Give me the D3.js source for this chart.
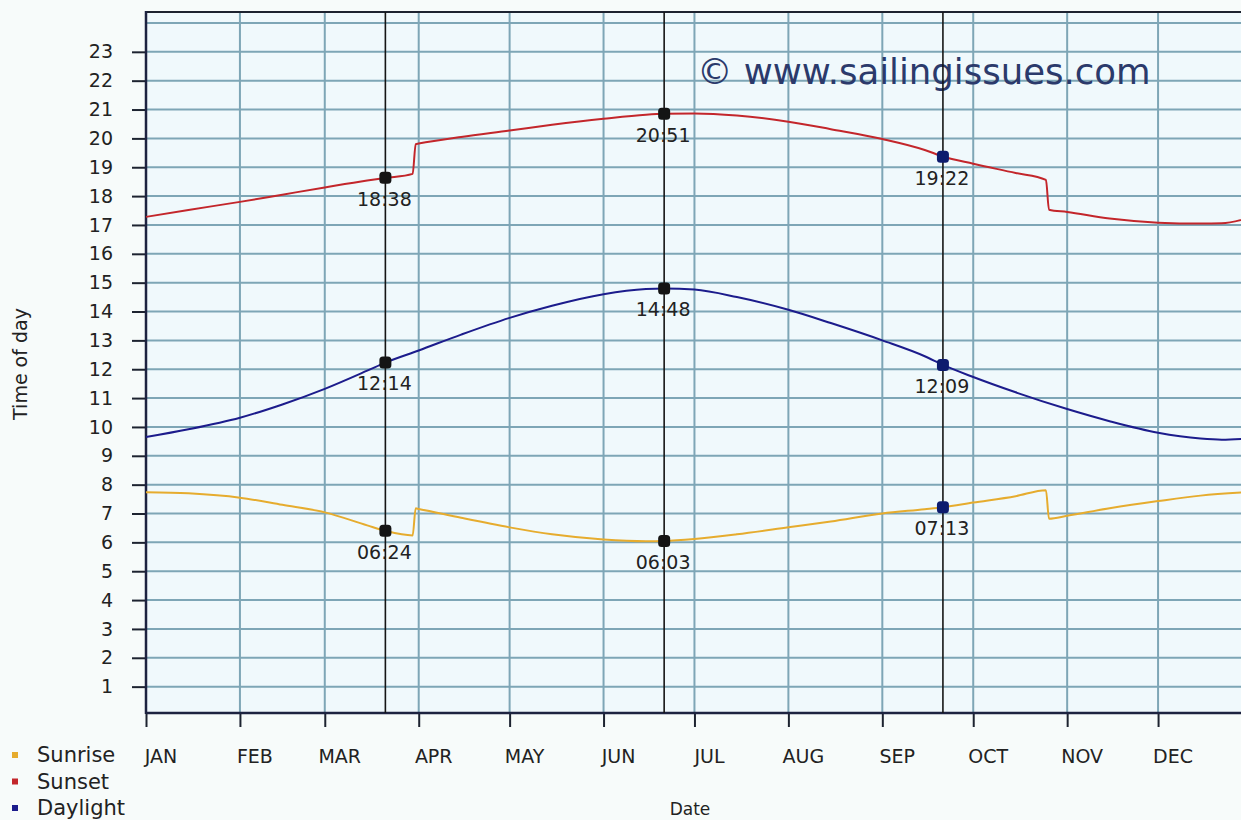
<!DOCTYPE html>
<html>
<head>
<meta charset="utf-8">
<script src="https://cdn.jsdelivr.net/npm/d3@7"></script>
<style>
  html, body { margin: 0; padding: 0; background: #f7fbfa; }
  svg { display: block; font-family: "DejaVu Sans", Verdana, sans-serif; }
</style>
</head>
<body>
<svg id="chart" width="1241" height="820"></svg>
<script>
// ---- data ----
const year = 2009;
const monthLabels = ["JAN","FEB","MAR","APR","MAY","JUN","JUL","AUG","SEP","OCT","NOV","DEC"];
const yTickValues = [1,2,3,4,5,6,7,8,9,10,11,12,13,14,15,16,17,18,19,20,21,22,23];

const sunsetDates = ["01-01","01-15","02-01","02-15","03-01","03-15","03-21","03-30","03-31","04-01","04-15","05-01","05-15","06-01","06-15","06-21","07-01","07-15","08-01","08-15","09-01","09-15","09-21","10-01","10-15","10-25","10-26","11-01","11-15","12-01","12-15","12-22","12-31"];
const sunsetValues = [17.28,17.52,17.80,18.05,18.30,18.54,18.63,18.77,19.80,19.82,20.05,20.27,20.47,20.68,20.82,20.85,20.86,20.79,20.58,20.32,19.98,19.60,19.37,19.12,18.80,18.56,17.53,17.45,17.22,17.08,17.05,17.06,17.25];

const sunriseDates = ["01-01","01-15","02-01","02-15","03-01","03-15","03-21","03-30","03-31","04-01","04-15","05-01","05-15","06-01","06-15","06-21","07-01","07-15","08-01","08-15","09-01","09-15","09-21","10-01","10-15","10-25","10-26","11-01","11-15","12-01","12-15","12-31"];
const sunriseValues = [7.74,7.70,7.55,7.30,7.04,6.59,6.40,6.24,7.18,7.16,6.85,6.52,6.28,6.10,6.04,6.05,6.12,6.28,6.52,6.72,7.00,7.15,7.22,7.38,7.60,7.81,6.82,6.92,7.18,7.43,7.62,7.74];

const daylightDates = ["01-01","01-15","02-01","02-15","03-01","03-15","03-21","04-01","04-15","05-01","05-15","06-01","06-15","06-21","07-01","07-15","08-01","08-15","09-01","09-15","09-21","10-01","10-15","11-01","11-15","12-01","12-15","12-22","12-31"];
const daylightValues = [9.65,9.92,10.32,10.78,11.32,11.95,12.23,12.65,13.20,13.78,14.20,14.60,14.78,14.80,14.76,14.50,14.06,13.60,13.00,12.45,12.15,11.73,11.20,10.62,10.20,9.80,9.60,9.56,9.60];

const markerDates = ["03-21","06-21","09-21"];
const markerSunset = ["18:38","20:51","19:22"];
const markerDaylight = ["12:14","14:48","12:09"];
const markerSunrise = ["06:24","06:03","07:13"];

const legendLabels = ["Sunrise","Sunset","Daylight"];
const seriesColors = ["#e6ac2e","#c3262b","#1c1c8c"];

// ---- helpers ----
const parseDay = s => new Date(year, +s.slice(0,2) - 1, +s.slice(3,5));
const parseHM = s => +s.slice(0,2) + (+s.slice(3,5)) / 60;

const svg = d3.select("#chart");
const pLeft = 146, pRight = 1252, pTop = 12, pBottom = 713;

const x = d3.scaleTime()
  .domain([new Date(year,0,1), new Date(year+1,0,1)])
  .range([pLeft, pRight]);
const y = d3.scaleLinear()
  .domain([0, 24.38])
  .range([715.5, pTop]);

// plot background
svg.append("rect")
  .attr("x", pLeft).attr("y", pTop)
  .attr("width", pRight - pLeft).attr("height", pBottom - pTop)
  .attr("fill", "#f0f9fc");

const gridColor = "#7ea6b6";
// horizontal grid
svg.append("g").selectAll("line")
  .data(d3.range(1, 25))
  .join("line")
  .attr("x1", pLeft).attr("x2", pRight)
  .attr("y1", d => y(d)).attr("y2", d => y(d))
  .attr("stroke", gridColor).attr("stroke-width", 2);

// vertical grid at month starts
const months = d3.timeMonth.range(new Date(year,0,1), new Date(year+1,0,1));
svg.append("g").selectAll("line")
  .data(months.slice(1))
  .join("line")
  .attr("x1", d => x(d)).attr("x2", d => x(d))
  .attr("y1", pTop).attr("y2", pBottom)
  .attr("stroke", gridColor).attr("stroke-width", 2);

// top border
svg.append("line")
  .attr("x1", pLeft).attr("x2", 1241).attr("y1", pTop).attr("y2", pTop)
  .attr("stroke", "#1d2330").attr("stroke-width", 2);

// Y axis
const yAxis = d3.axisLeft(y).tickValues(yTickValues).tickSize(14).tickPadding(19).tickFormat(d3.format("d"));
const gy = svg.append("g").attr("transform", `translate(${pLeft},0)`).call(yAxis);
gy.select(".domain").remove();
gy.selectAll(".tick line").attr("stroke", "#1d2330").attr("stroke-width", 2);
gy.selectAll(".tick text").attr("fill", "#222").style("font-size", "19px")
  .style("font-family", "'DejaVu Sans', sans-serif");
svg.append("line").attr("x1", pLeft).attr("x2", pLeft).attr("y1", pTop - 1).attr("y2", pBottom + 1)
  .attr("stroke", "#1d2340").attr("stroke-width", 2.5);

// X axis
const xAxis = d3.axisBottom(x).tickValues(months).tickSize(14).tickFormat("");
const gx = svg.append("g").attr("transform", `translate(0,${pBottom})`).call(xAxis);
gx.select(".domain").remove();
gx.selectAll(".tick line").attr("stroke", "#1d2330").attr("stroke-width", 2);
svg.append("line").attr("x1", pLeft).attr("x2", 1241).attr("y1", pBottom).attr("y2", pBottom)
  .attr("stroke", "#1d2340").attr("stroke-width", 2.5);
svg.append("g").selectAll("text")
  .data(months)
  .join("text")
  .attr("x", d => x(d) + 15)
  .attr("y", 763)
  .attr("text-anchor", "middle")
  .attr("fill", "#222")
  .style("font-size", "19px")
  .text((d, i) => monthLabels[i]);

// axis titles
svg.append("text")
  .attr("transform", "translate(27,364) rotate(-90)")
  .attr("text-anchor", "middle")
  .attr("fill", "#222")
  .style("font-size", "19px")
  .text("Time of day");
svg.append("text")
  .attr("x", 690).attr("y", 815)
  .attr("text-anchor", "middle")
  .attr("fill", "#222")
  .style("font-size", "17px")
  .text("Date");

// watermark
svg.append("text")
  .attr("x", 697).attr("y", 84)
  .attr("fill", "#2b3a6b")
  .style("font-size", "35.5px")
  .text("© www.sailingissues.com");

// series lines
const line = d3.line()
  .x(d => x(d[0])).y(d => y(d[1]))
  .curve(d3.curveMonotoneX);
const series = [
  [sunriseDates, sunriseValues],
  [sunsetDates, sunsetValues],
  [daylightDates, daylightValues]
];
series.forEach(([dates, vals], i) => {
  svg.append("path")
    .datum(dates.map((d, j) => [parseDay(d), vals[j]]))
    .attr("d", line)
    .attr("fill", "none")
    .attr("stroke", seriesColors[i])
    .attr("stroke-width", 2);
});

// marker vertical lines
svg.append("g").selectAll("line")
  .data(markerDates)
  .join("line")
  .attr("x1", d => x(parseDay(d))).attr("x2", d => x(parseDay(d)))
  .attr("y1", pTop).attr("y2", pBottom)
  .attr("stroke", "#151515").attr("stroke-width", 1.6);

// markers + labels
const markerColors = ["#141414", "#141414", "#0d1b6e"];
[markerSunrise, markerSunset, markerDaylight].forEach(arr => {
  arr.forEach((lab, i) => {
    const cx = x(parseDay(markerDates[i]));
    const cy = y(parseHM(lab));
    svg.append("rect")
      .attr("x", cx - 6).attr("y", cy - 6)
      .attr("width", 12).attr("height", 12)
      .attr("rx", 3.5)
      .attr("fill", markerColors[i]);
    svg.append("text")
      .attr("x", cx - 1).attr("y", cy + 28)
      .attr("text-anchor", "middle")
      .attr("fill", "#222")
      .style("font-size", "19px")
      .text(lab);
  });
});

// legend
const lg = svg.append("g");
legendLabels.forEach((lab, i) => {
  const by = 762 + i * 26.5;
  lg.append("rect")
    .attr("x", 12).attr("y", by - 10)
    .attr("width", 6).attr("height", 6)
    .attr("fill", seriesColors[i]);
  lg.append("text")
    .attr("x", 37).attr("y", by)
    .attr("fill", "#222")
    .style("font-size", "21px")
    .text(lab);
});
</script>
</body>
</html>
